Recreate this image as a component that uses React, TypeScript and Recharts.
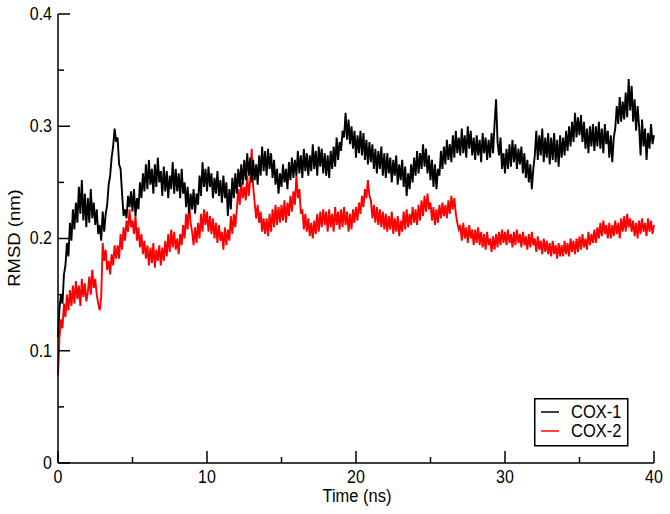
import React from 'react';
import { LineChart, Line, XAxis, YAxis, Legend } from 'recharts';

// sampling interval of the trajectory (ns)
const STEP_NS = 0.1;

// RMSD (nm) of COX-1, one value every 0.1 ns from 0 to 40 ns (one row per ns)
const COX1 = [
  0.112, 0.138, 0.150, 0.142, 0.168, 0.176, 0.196, 0.184, 0.214, 0.198,
  0.226, 0.208, 0.232, 0.214, 0.246, 0.222, 0.252, 0.216, 0.240, 0.210,
  0.236, 0.214, 0.244, 0.218, 0.232, 0.212, 0.226, 0.204, 0.212, 0.198,
  0.224, 0.206, 0.222, 0.230, 0.248, 0.256, 0.272, 0.282, 0.298, 0.286,
  0.290, 0.266, 0.262, 0.240, 0.220, 0.226, 0.218, 0.238, 0.228, 0.242,
  0.224, 0.244, 0.220, 0.236, 0.226, 0.250, 0.236, 0.258, 0.242, 0.266,
  0.244, 0.270, 0.248, 0.262, 0.240, 0.266, 0.246, 0.272, 0.250, 0.260,
  0.238, 0.264, 0.242, 0.260, 0.236, 0.256, 0.244, 0.268, 0.240, 0.262,
  0.242, 0.258, 0.236, 0.262, 0.240, 0.250, 0.228, 0.246, 0.222, 0.240,
  0.226, 0.244, 0.222, 0.240, 0.230, 0.256, 0.238, 0.268, 0.246, 0.262,
  0.242, 0.264, 0.246, 0.258, 0.236, 0.254, 0.240, 0.260, 0.238, 0.252,
  0.232, 0.256, 0.236, 0.250, 0.220, 0.244, 0.226, 0.254, 0.236, 0.258,
  0.240, 0.262, 0.246, 0.266, 0.248, 0.270, 0.252, 0.276, 0.256, 0.272,
  0.250, 0.270, 0.252, 0.266, 0.248, 0.274, 0.256, 0.282, 0.260, 0.278,
  0.256, 0.280, 0.262, 0.276, 0.254, 0.270, 0.248, 0.262, 0.240, 0.258,
  0.246, 0.266, 0.250, 0.262, 0.244, 0.268, 0.252, 0.272, 0.254, 0.270,
  0.256, 0.278, 0.258, 0.274, 0.254, 0.280, 0.260, 0.276, 0.256, 0.274,
  0.260, 0.284, 0.262, 0.278, 0.256, 0.282, 0.264, 0.280, 0.258, 0.276,
  0.256, 0.274, 0.254, 0.278, 0.262, 0.282, 0.264, 0.290, 0.270, 0.286,
  0.278, 0.296, 0.290, 0.312, 0.288, 0.306, 0.284, 0.300, 0.280, 0.296,
  0.272, 0.292, 0.276, 0.296, 0.274, 0.294, 0.270, 0.288, 0.266, 0.286,
  0.268, 0.284, 0.262, 0.280, 0.258, 0.278, 0.262, 0.282, 0.256, 0.276,
  0.254, 0.276, 0.258, 0.272, 0.250, 0.270, 0.256, 0.274, 0.248, 0.266,
  0.252, 0.270, 0.246, 0.264, 0.238, 0.258, 0.244, 0.266, 0.250, 0.272,
  0.256, 0.278, 0.258, 0.276, 0.262, 0.284, 0.264, 0.280, 0.258, 0.274,
  0.252, 0.270, 0.246, 0.266, 0.244, 0.262, 0.256, 0.278, 0.262, 0.282,
  0.266, 0.288, 0.270, 0.284, 0.268, 0.292, 0.272, 0.296, 0.276, 0.290,
  0.274, 0.298, 0.276, 0.292, 0.272, 0.300, 0.280, 0.296, 0.274, 0.290,
  0.270, 0.292, 0.274, 0.288, 0.268, 0.294, 0.276, 0.290, 0.270, 0.288,
  0.272, 0.294, 0.276, 0.302, 0.324, 0.286, 0.274, 0.290, 0.262, 0.276,
  0.258, 0.280, 0.262, 0.284, 0.264, 0.288, 0.268, 0.284, 0.262, 0.280,
  0.266, 0.282, 0.258, 0.276, 0.254, 0.270, 0.250, 0.266, 0.244, 0.262,
  0.274, 0.296, 0.270, 0.292, 0.274, 0.298, 0.268, 0.290, 0.272, 0.294,
  0.266, 0.290, 0.270, 0.294, 0.268, 0.288, 0.264, 0.292, 0.272, 0.290,
  0.274, 0.296, 0.278, 0.300, 0.282, 0.304, 0.286, 0.312, 0.290, 0.308,
  0.292, 0.310, 0.286, 0.304, 0.280, 0.298, 0.276, 0.300, 0.282, 0.302,
  0.278, 0.300, 0.282, 0.304, 0.280, 0.298, 0.276, 0.302, 0.284, 0.296,
  0.272, 0.292, 0.268, 0.290, 0.298, 0.318, 0.302, 0.326, 0.304, 0.322,
  0.306, 0.330, 0.308, 0.342, 0.314, 0.336, 0.304, 0.324, 0.296, 0.318,
  0.300, 0.274, 0.306, 0.282, 0.298, 0.270, 0.294, 0.280, 0.302, 0.284,
  0.292,
];

// RMSD (nm) of COX-2, same sampling
const COX2 = [
  0.078, 0.112, 0.128, 0.120, 0.142, 0.130, 0.150, 0.136, 0.154, 0.140,
  0.158, 0.142, 0.162, 0.146, 0.158, 0.140, 0.164, 0.148, 0.160, 0.144,
  0.152, 0.166, 0.150, 0.172, 0.156, 0.164, 0.150, 0.142, 0.136, 0.148,
  0.196, 0.180, 0.190, 0.172, 0.180, 0.168, 0.186, 0.176, 0.194, 0.182,
  0.194, 0.182, 0.204, 0.190, 0.210, 0.198, 0.216, 0.206, 0.226, 0.210,
  0.216, 0.204, 0.220, 0.198, 0.210, 0.192, 0.204, 0.186, 0.198, 0.182,
  0.194, 0.176, 0.192, 0.178, 0.196, 0.174, 0.190, 0.180, 0.194, 0.176,
  0.192, 0.180, 0.198, 0.184, 0.204, 0.188, 0.208, 0.192, 0.206, 0.190,
  0.200, 0.186, 0.204, 0.194, 0.212, 0.200, 0.222, 0.208, 0.230, 0.214,
  0.206, 0.194, 0.210, 0.196, 0.214, 0.200, 0.222, 0.206, 0.226, 0.212,
  0.224, 0.206, 0.220, 0.204, 0.218, 0.200, 0.214, 0.196, 0.212, 0.198,
  0.206, 0.190, 0.210, 0.194, 0.208, 0.198, 0.220, 0.204, 0.222, 0.210,
  0.226, 0.244, 0.230, 0.250, 0.236, 0.246, 0.234, 0.256, 0.238, 0.252,
  0.280, 0.246, 0.232, 0.218, 0.230, 0.214, 0.224, 0.206, 0.218, 0.204,
  0.218, 0.202, 0.222, 0.206, 0.226, 0.210, 0.230, 0.212, 0.228, 0.214,
  0.230, 0.216, 0.234, 0.214, 0.232, 0.220, 0.238, 0.224, 0.242, 0.230,
  0.256, 0.236, 0.244, 0.222, 0.226, 0.208, 0.222, 0.206, 0.218, 0.202,
  0.214, 0.200, 0.216, 0.204, 0.222, 0.206, 0.224, 0.210, 0.226, 0.212,
  0.224, 0.206, 0.226, 0.210, 0.222, 0.206, 0.228, 0.212, 0.224, 0.208,
  0.226, 0.210, 0.228, 0.212, 0.224, 0.206, 0.222, 0.208, 0.226, 0.214,
  0.228, 0.216, 0.232, 0.222, 0.238, 0.228, 0.244, 0.236, 0.252, 0.238,
  0.234, 0.218, 0.230, 0.214, 0.228, 0.212, 0.226, 0.210, 0.224, 0.208,
  0.222, 0.206, 0.220, 0.208, 0.224, 0.204, 0.218, 0.206, 0.220, 0.202,
  0.216, 0.206, 0.224, 0.208, 0.226, 0.210, 0.222, 0.212, 0.228, 0.214,
  0.226, 0.212, 0.230, 0.216, 0.234, 0.220, 0.238, 0.224, 0.240, 0.226,
  0.232, 0.216, 0.228, 0.212, 0.226, 0.214, 0.230, 0.218, 0.232, 0.220,
  0.230, 0.218, 0.234, 0.222, 0.238, 0.226, 0.236, 0.222, 0.214, 0.208,
  0.212, 0.198, 0.214, 0.200, 0.210, 0.196, 0.212, 0.200, 0.208, 0.194,
  0.208, 0.196, 0.210, 0.194, 0.206, 0.192, 0.204, 0.190, 0.206, 0.194,
  0.200, 0.188, 0.202, 0.190, 0.204, 0.192, 0.206, 0.194, 0.208, 0.196,
  0.206, 0.194, 0.208, 0.196, 0.204, 0.192, 0.206, 0.194, 0.208, 0.196,
  0.204, 0.192, 0.206, 0.194, 0.202, 0.190, 0.204, 0.192, 0.206, 0.194,
  0.200, 0.188, 0.202, 0.190, 0.198, 0.186, 0.200, 0.188, 0.198, 0.186,
  0.196, 0.184, 0.198, 0.186, 0.194, 0.182, 0.196, 0.184, 0.194, 0.184,
  0.198, 0.186, 0.196, 0.184, 0.200, 0.188, 0.198, 0.186, 0.200, 0.188,
  0.202, 0.190, 0.204, 0.192, 0.200, 0.190, 0.206, 0.194, 0.204, 0.196,
  0.208, 0.196, 0.210, 0.200, 0.214, 0.202, 0.216, 0.204, 0.212, 0.200,
  0.214, 0.200, 0.212, 0.202, 0.216, 0.204, 0.214, 0.200, 0.218, 0.206,
  0.220, 0.206, 0.222, 0.210, 0.218, 0.206, 0.216, 0.202, 0.214, 0.200,
  0.216, 0.204, 0.218, 0.206, 0.214, 0.202, 0.218, 0.206, 0.216, 0.204,
  0.212,
];

const SERIES_NAMES = ['COX-1', 'COX-2'];
const SERIES_COLORS = ['#000000', '#ff0000'];

const X_TICKS = [0, 5, 10, 15, 20, 25, 30, 35, 40];
const X_LABELED = [0, 10, 20, 30, 40];
const Y_TICKS = [0, 0.05, 0.1, 0.15, 0.2, 0.25, 0.3, 0.35, 0.4];
const Y_LABELED = [0, 0.1, 0.2, 0.3, 0.4];

const X_TITLE = 'Time (ns)';
const Y_TITLE = 'RMSD (nm)';

const data = COX1.map((v, i) => ({
  t: Math.round(i * STEP_NS * 10) / 10,
  cox1: v,
  cox2: COX2[i],
}));

const FONT = '"Liberation Sans", Arial, Helvetica, sans-serif';
const MAJOR = 12;
const MINOR = 6;

const isLabeledX = (v: number) => X_LABELED.some((l) => Math.abs(l - v) < 1e-9);
const isLabeledY = (v: number) => Y_LABELED.some((l) => Math.abs(l - v) < 1e-9);

const fmtY = (v: number) => (v === 0 ? '0' : String(Math.round(v * 10) / 10));

const BottomTick = (props: any) => {
  const { x, y, payload } = props;
  const major = isLabeledX(payload.value);
  return (
    <g>
      <line x1={x} x2={x} y1={y} y2={y - (major ? MAJOR : MINOR)} stroke="#000" strokeWidth={1.5} />
      {major && (
        <text
          transform={`translate(${x},${y + 14}) scale(1,1.12)`}
          textAnchor="middle"
          dominantBaseline="central"
          fontSize={16}
          fontFamily={FONT}
          fill="#000"
        >
          {payload.value}
        </text>
      )}
    </g>
  );
};

const TopTick = (props: any) => {
  const { x, y, payload } = props;
  const major = isLabeledX(payload.value);
  return <line x1={x} x2={x} y1={y} y2={y + (major ? MAJOR : MINOR)} stroke="#000" strokeWidth={1.5} />;
};

const LeftTick = (props: any) => {
  const { x, y, payload } = props;
  const major = isLabeledY(payload.value);
  return (
    <g>
      <line x1={x} x2={x + (major ? MAJOR : MINOR)} y1={y} y2={y} stroke="#000" strokeWidth={1.5} />
      {major && (
        <text
          transform={`translate(${x - 6},${y}) scale(1,1.12)`}
          textAnchor="end"
          dominantBaseline="central"
          fontSize={16}
          fontFamily={FONT}
          fill="#000"
        >
          {fmtY(payload.value)}
        </text>
      )}
    </g>
  );
};

const RightTick = (props: any) => {
  const { x, y, payload } = props;
  const major = isLabeledY(payload.value);
  return <line x1={x} x2={x - (major ? MAJOR : MINOR)} y1={y} y2={y} stroke="#000" strokeWidth={1.5} />;
};

const LegendBox = () => (
  <svg width={96} height={50} style={{ display: 'block' }}>
    <rect x={0.75} y={0.75} width={93} height={47} fill="#fff" stroke="#000" strokeWidth={1.5} />
    {SERIES_NAMES.map((n, i) => (
      <g key={n}>
        <line x1={7} x2={25} y1={14 + i * 19} y2={14 + i * 19} stroke={SERIES_COLORS[i]} strokeWidth={1.5} />
        <text
          transform={`translate(37,${14 + i * 19}) scale(1,1.12)`}
          dominantBaseline="central"
          fontSize={16.5}
          fontFamily={FONT}
          fill="#000"
        >
          {n}
        </text>
      </g>
    ))}
  </svg>
);

export default function App() {
  return (
    <div style={{ position: 'absolute', left: 0, top: 0, width: 670, height: 514, background: '#fff' }}>
      <LineChart width={670} height={514} data={data} margin={{ top: 14, right: 16, bottom: 0, left: 0 }}>
        <XAxis
          dataKey="t"
          type="number"
          domain={[0, 40]}
          ticks={X_TICKS}
          interval={0}
          tickSize={0}
          tickMargin={0}
          tickLine={false}
          tick={<BottomTick />}
          axisLine={{ stroke: '#000', strokeWidth: 1.5 }}
          height={51}
          label={{
            content: () => (
              <text
                transform="translate(357,496) scale(1,1.12)"
                textAnchor="middle"
                dominantBaseline="central"
                fontSize={16.5}
                fontFamily={FONT}
                fill="#000"
              >
                {X_TITLE}
              </text>
            ),
          }}
        />
        <XAxis
          xAxisId="top"
          orientation="top"
          dataKey="t"
          type="number"
          domain={[0, 40]}
          ticks={X_TICKS}
          interval={0}
          tickSize={0}
          tickMargin={0}
          tickLine={false}
          tick={<TopTick />}
          axisLine={{ stroke: '#000', strokeWidth: 1.5 }}
          height={0}
        />
        <YAxis
          type="number"
          domain={[0, 0.4]}
          ticks={Y_TICKS}
          interval={0}
          tickSize={0}
          tickMargin={0}
          tickLine={false}
          tick={<LeftTick />}
          axisLine={{ stroke: '#000', strokeWidth: 1.5 }}
          width={58}
          label={{
            content: () => (
              <text
                transform="translate(14,238) rotate(-90) scale(1.12,1)"
                textAnchor="middle"
                dominantBaseline="central"
                fontSize={16.5}
                fontFamily={FONT}
                fill="#000"
              >
                {Y_TITLE}
              </text>
            ),
          }}
        />
        <YAxis
          yAxisId="right"
          orientation="right"
          type="number"
          domain={[0, 0.4]}
          ticks={Y_TICKS}
          interval={0}
          tickSize={0}
          tickMargin={0}
          tickLine={false}
          tick={<RightTick />}
          axisLine={{ stroke: '#000', strokeWidth: 1.5 }}
          width={0}
        />
        <Legend
          layout="horizontal"
          verticalAlign="middle"
          align="center"
          content={() => <LegendBox />}
          wrapperStyle={{ left: 534, top: 398, width: 96, height: 50 }}
        />
        <Line
          dataKey="cox2"
          name={SERIES_NAMES[1]}
          stroke={SERIES_COLORS[1]}
          strokeWidth={1.9}
          strokeLinejoin="miter"
          dot={false}
          isAnimationActive={false}
        />
        <Line
          dataKey="cox1"
          name={SERIES_NAMES[0]}
          stroke={SERIES_COLORS[0]}
          strokeWidth={1.9}
          strokeLinejoin="miter"
          dot={false}
          isAnimationActive={false}
        />
      </LineChart>
    </div>
  );
}
